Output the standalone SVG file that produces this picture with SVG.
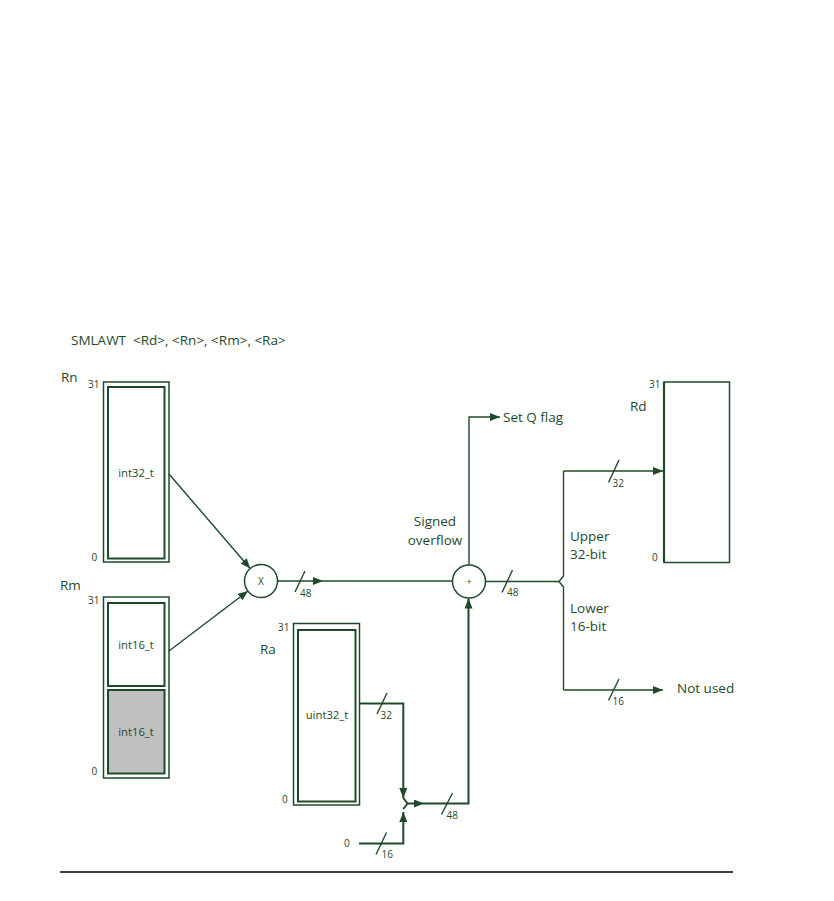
<svg xmlns="http://www.w3.org/2000/svg" width="834" height="901" viewBox="0 0 834 901">
<defs>
<style>
text{font-family:"Open Sans","Noto Sans",sans-serif;fill:#1f4a2a}
.lbl{font-size:13.5px}
.sm{font-size:10px}
.in{font-size:11.3px}
.c{stroke:#1f4a2a;stroke-width:1.4;fill:none}
.ct{stroke:#1f4a2a;stroke-width:2;fill:none}
.o{fill:#fff;stroke:#1f4a2a;stroke-width:1.5}
.i{fill:none;stroke:#1f4a2a;stroke-width:2}
</style>
<marker id="ah" viewBox="0 0 10 8" refX="10" refY="4" markerWidth="10" markerHeight="8" markerUnits="userSpaceOnUse" orient="auto">
<path d="M0,0 L10,4 L0,8 Z" fill="#1f4a2a"/>
</marker>
</defs>
<rect width="834" height="901" fill="#fff"/>
<text class="lbl" x="71" y="344.5" font-size="12.5" xml:space="preserve" style="white-space:pre">SMLAWT  &lt;Rd&gt;, &lt;Rn&gt;, &lt;Rm&gt;, &lt;Ra&gt;</text>

<g id="Rn">
<rect class="o" x="103.5" y="382" width="65.5" height="180"/>
<rect class="i" x="108" y="387" width="56.5" height="171.5"/>
<text class="lbl" x="61" y="382">Rn</text>
<text class="sm" x="88" y="387.5">31</text>
<text class="sm" x="91.5" y="561">0</text>
<text class="in" x="136" y="477" text-anchor="middle">int32_t</text>
</g>

<g id="Rm">
<rect class="o" x="103.5" y="597" width="65.5" height="181"/>
<rect class="i" x="108" y="603" width="56.5" height="83"/>
<rect x="108" y="690" width="56.5" height="83.5" fill="#c0c0c0" stroke="#1f4a2a" stroke-width="2"/>
<text class="lbl" x="60" y="589.5">Rm</text>
<text class="sm" x="88" y="603.5">31</text>
<text class="sm" x="91.5" y="775">0</text>
<text class="in" x="136" y="648.5" text-anchor="middle">int16_t</text>
<text class="in" x="136" y="736" text-anchor="middle">int16_t</text>
</g>

<g id="Ra">
<rect class="o" x="293.5" y="623.5" width="66" height="181.5" stroke-width="2"/>
<rect class="i" x="298" y="630" width="57.5" height="171.5"/>
<text class="lbl" x="260" y="653.5">Ra</text>
<text class="sm" x="278" y="631">31</text>
<text class="sm" x="282" y="802.5">0</text>
<text class="in" x="327" y="718.5" text-anchor="middle">uint32_t</text>
</g>

<g id="Rd">
<rect class="o" x="664" y="382" width="65.5" height="180.5"/>
<line x1="664" y1="382" x2="664" y2="562.5" stroke="#1f4a2a" stroke-width="2.2"/>
<text class="lbl" x="630" y="411">Rd</text>
<text class="sm" x="649" y="387.5">31</text>
<text class="sm" x="652" y="561">0</text>
</g>

<g id="mul">
<circle cx="261" cy="581" r="16.5" fill="#fff" stroke="#1f4a2a" stroke-width="1.5"/>
<text class="sm" x="261" y="585" text-anchor="middle">X</text>
</g>

<g id="add">
<circle cx="469" cy="581.5" r="16.5" fill="#fff" stroke="#1f4a2a" stroke-width="1.5"/>
<text x="469" y="585" text-anchor="middle" font-size="9">+</text>
</g>

<g id="connectors">
<line class="c" x1="169" y1="474" x2="250.2" y2="568.5" marker-end="url(#ah)"/>
<line class="c" x1="169" y1="651" x2="248" y2="591" marker-end="url(#ah)"/>
<line class="c" x1="277.5" y1="581" x2="323" y2="581" marker-end="url(#ah)"/>
<line class="c" x1="323" y1="581" x2="452.5" y2="581"/>
<line class="c" x1="295" y1="592" x2="305" y2="571"/>
<text class="sm" x="300" y="597">48</text>

<polyline class="c" points="469,565 469,417 500,417" marker-end="url(#ah)"/>
<text class="lbl" x="503" y="422">Set Q flag</text>
<text class="lbl" x="435" y="526" text-anchor="middle">Signed</text>
<text class="lbl" x="435" y="544.5" text-anchor="middle">overflow</text>

<line class="c" x1="485.5" y1="581.5" x2="559" y2="581.5"/>
<line class="c" x1="502" y1="592.5" x2="512.5" y2="570"/>
<text class="sm" x="507" y="596">48</text>
<path class="c" d="M563.5,471 V576 L559,581.5 L563.5,587 V690"/>
<line class="c" x1="563.5" y1="471" x2="663" y2="471" marker-end="url(#ah)"/>
<line class="c" x1="608.5" y1="482.5" x2="619" y2="460"/>
<text class="sm" x="612.5" y="487">32</text>
<text class="lbl" x="570" y="540.5">Upper</text>
<text class="lbl" x="570" y="558.5">32-bit</text>
<text class="lbl" x="570" y="612.5">Lower</text>
<text class="lbl" x="570" y="630.5">16-bit</text>
<line class="c" x1="563.5" y1="690" x2="663" y2="690" marker-end="url(#ah)"/>
<line class="c" x1="608.5" y1="700.5" x2="619" y2="679"/>
<text class="sm" x="612.5" y="704.5">16</text>
<text class="lbl" x="677" y="692.5">Not used</text>

<polyline class="ct" points="359.5,703.5 403.3,703.5 403.3,798" marker-end="url(#ah)"/>
<line class="c" x1="377" y1="714" x2="387" y2="693"/>
<text class="sm" x="380.5" y="718.5">32</text>
<text class="sm" x="344" y="847">0</text>
<polyline class="ct" points="359,843.5 403.3,843.5 403.3,812" marker-end="url(#ah)"/>
<line class="c" x1="376" y1="854.5" x2="386.5" y2="832.5"/>
<text class="sm" x="381.5" y="858">16</text>
<polyline class="ct" points="403.3,798 407.5,803.5 403.3,809"/>
<line class="ct" x1="407.5" y1="803.5" x2="424" y2="803.5" marker-end="url(#ah)"/>
<polyline class="ct" points="424,803.5 468.5,803.5 468.5,598.5" marker-end="url(#ah)"/>
<line class="c" x1="441.5" y1="814.5" x2="452.5" y2="793"/>
<text class="sm" x="446.5" y="818.5">48</text>
</g>

<line x1="60" y1="872" x2="733" y2="872" stroke="#000" stroke-width="1.5"/>
</svg>
